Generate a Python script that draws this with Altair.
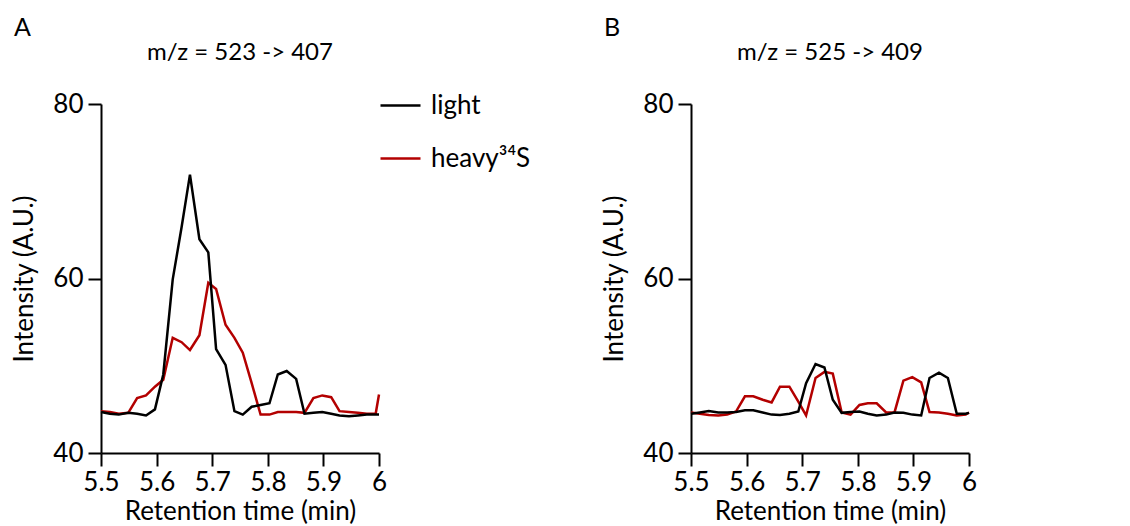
import altair as alt
import pandas as pd

# ---- data ----
time_min = [5.500, 5.516, 5.532, 5.549, 5.565, 5.581, 5.597, 5.612, 5.629, 5.645,
            5.660, 5.677, 5.693, 5.707, 5.724, 5.740, 5.755, 5.771, 5.787, 5.803,
            5.818, 5.834, 5.851, 5.866, 5.882, 5.898, 5.914, 5.929, 5.946, 5.962,
            5.978, 5.994, 6.000]

light_A = [44.7, 44.5, 44.4, 44.6, 44.5, 44.3, 45.0, 49.0, 59.9, 65.9,
           71.9, 64.5, 63.0, 51.9, 50.1, 44.8, 44.4, 45.3, 45.5, 45.7,
           49.0, 49.4, 48.5, 44.5, 44.6, 44.7, 44.5, 44.3, 44.2, 44.3,
           44.4, 44.4, 44.4]
heavy_A = [44.8, 44.7, 44.5, 44.6, 46.3, 46.6, 47.6, 48.4, 53.2, 52.7,
           51.8, 53.5, 59.5, 58.8, 54.7, 53.2, 51.5, 48.0, 44.4, 44.4,
           44.7, 44.7, 44.7, 44.6, 46.3, 46.6, 46.4, 44.8, 44.7, 44.6,
           44.5, 44.5, 46.7]

light_B = [44.5, 44.65, 44.8, 44.65, 44.65, 44.7, 44.9, 44.9, 44.65, 44.4,
           44.35, 44.5, 44.75, 48.0, 50.2, 49.8, 46.1, 44.6, 44.7, 44.75,
           44.5, 44.3, 44.4, 44.65, 44.6, 44.4, 44.3, 48.6, 49.2, 48.6,
           44.5, 44.5, 44.6]
heavy_B = [44.65, 44.5, 44.35, 44.3, 44.4, 44.75, 46.5, 46.5, 46.1, 45.8,
           47.6, 47.6, 45.9, 44.3, 48.6, 49.3, 49.1, 44.65, 44.4, 45.5,
           45.7, 45.7, 44.65, 44.65, 48.3, 48.7, 48.1, 44.7, 44.65, 44.5,
           44.3, 44.4, 44.65]

series_names = ["light", "heavy³⁴S"]
panel_titles = ["m/z = 523 -> 407", "m/z = 525 -> 409"]
panel_letters = ["A", "B"]
x_ticks = [5.5, 5.6, 5.7, 5.8, 5.9, 6.0]
y_ticks = [40, 60, 80]

FONT = "Lato"
RED = "#b30000"
FS = 26
W, H = 278, 349


def panel(light, heavy, title, letter):
    n = len(time_min)
    df = pd.DataFrame({
        "t": time_min + time_min,
        "v": light + heavy,
        "series": [series_names[0]] * n + [series_names[1]] * n,
    })
    color = alt.Color(
        "series:N",
        scale=alt.Scale(domain=series_names, range=["black", RED]),
        legend=alt.Legend(
            title=None, orient="none", legendX=278, legendY=-20,
            symbolType="stroke", symbolSize=1600, symbolStrokeWidth=2.5,
            labelFont=FONT, labelFontSize=FS, labelColor="black",
            labelOffset=9, rowPadding=18, padding=0,
        ),
    )
    base = alt.Chart(df).encode(
        x=alt.X("t:Q", scale=alt.Scale(domain=[5.5, 6.0], nice=False, zero=False),
                axis=alt.Axis(values=x_ticks, format="~g", title="Retention time (min)",
                              labelPadding=3, titlePadding=3, labelFlush=False,
                              labelOverlap=False)),
        y=alt.Y("v:Q", scale=alt.Scale(domain=[40, 80], nice=False, zero=False),
                axis=alt.Axis(values=y_ticks, title="Intensity (A.U.)",
                              labelPadding=5, titlePadding=15, labelFlush=False)),
        color=color,
    )
    red = base.transform_filter(alt.datum.series == series_names[1]).mark_line(strokeWidth=2.5)
    black = base.transform_filter(alt.datum.series == series_names[0]).mark_line(strokeWidth=2.5)
    txt = pd.DataFrame({"label": [letter, title]})
    letter_layer = alt.Chart(txt).transform_filter(alt.datum.label == letter).mark_text(
        font=FONT, fontSize=25, align="left", baseline="top", color="black"
    ).encode(x=alt.value(-87), y=alt.value(-88), text="label:N")
    title_layer = alt.Chart(txt).transform_filter(alt.datum.label == title).mark_text(
        font=FONT, fontSize=24, align="center", baseline="alphabetic", color="black"
    ).encode(x=alt.value(W / 2), y=alt.value(-44), text="label:N")
    return alt.layer(red, black, letter_layer, title_layer).properties(width=W, height=H)


chart = alt.hconcat(
    panel(light_A, heavy_A, panel_titles[0], panel_letters[0]),
    panel(light_B, heavy_B, panel_titles[1], panel_letters[1]),
    spacing=312, bounds="flush",
).properties(
    padding={"left": 11, "top": 16, "right": 0, "bottom": 0},
).configure_view(stroke=None).configure_axis(
    grid=False, domainColor="black", domainWidth=2, tickColor="black", tickWidth=2,
    tickSize=13, labelColor="black", titleColor="black", labelFont=FONT, titleFont=FONT,
    labelFontSize=FS, titleFontSize=FS, titleFontWeight="normal",
).configure_legend(labelLimit=300)

chart.save("out.html", embed_options={"renderer": "svg", "actions": False})
